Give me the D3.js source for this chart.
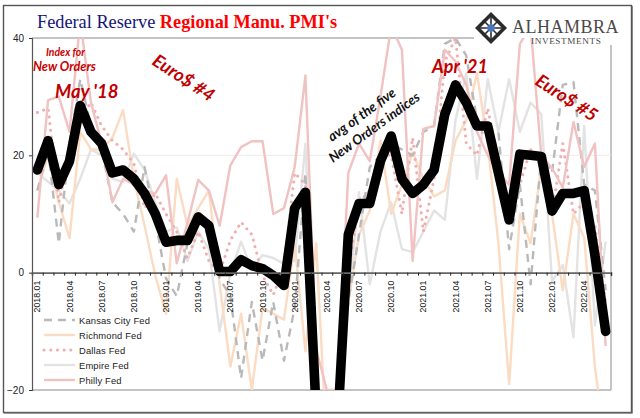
<!DOCTYPE html>
<html><head><meta charset="utf-8">
<script src="https://cdn.jsdelivr.net/npm/d3@7/dist/d3.min.js"></script>
<style>html,body{margin:0;padding:0;background:#fff}svg{display:block}</style>
</head><body><svg id="c" width="640" height="418"></svg>
<script>
const months = [];
for (let yr = 2018; yr <= 2022; yr++) for (let m = 1; m <= 12; m++) { if (yr === 2022 && m > 6) break; months.push(yr + "." + String(m).padStart(2, "0")); }
const yTicks = [-20, 0, 20, 40];
const kansas = [14,21,5,22,33,25,21,12,10,7,18,9,-1,-4,5,10,6,-1,-4,-18,-5,-15,-5,-15,-6,17,-25,-45,-25,-5,6.5,18,20,22,21,20,24,25,39,40,37,26,24,24,4,15,-2,20,17,32,32.5,15,14,-3];
const richmond = [14,20,12,5.9,24,21,21,23,27.7,16,8,-0.5,-7,16,8,11,14,-2,-16,-7,-20,-6,-7,-8,5,-13.4,5,-30,-25,-5,6.4,10.6,22.5,10,15,20.5,16,13,14,22.5,26,34,22,5,-19,10,5,18,10,-3,10,6,-16,-30];
const dallas = [27.3,28,12,20,26,29,25,22.5,21,18.6,11,13.5,10,7,2.5,7,2,0,5.5,8.6,6.5,-0.5,-3.8,1,17,15,-20,-40,-30,0,12,14,20,20,10,23,7,16,36,40,22,20,28,19,10,15,21,19,10,22,10,12,8,-5];
const empire = [17,15.5,14,11.8,16,21,20,16,15.5,20.3,17.5,12,7,7.7,2,7,4,-10,0,5.3,0.5,3,2.5,1.5,2,22,-20,-50,-30,-5,13.7,-2,7,12,4,3.5,7,10.6,9,26,34,16,33,24,33,24,29,27,-1.5,1.3,-11,25,-9,5.3];
const philly = [9.4,29.4,30,24,43,29,22,12,16,15,14,13.5,16.6,1.6,8.5,15.8,14,8,18.3,21.4,22.4,22.4,10,11,18,33.6,-13,-20,-20,17,22,19,30,42,38,2,24.5,25,38,36,32,24,20,17,15,39,42,20,17.8,14.5,25.7,18,22,-12.5];
const average = [17.5,22.5,15,19,28.5,24,22,17,17.5,16,13.5,10,5.2,5.5,5.5,9.5,8,0.2,0.2,2.2,1.2,0.7,-0.5,-2.2,11,13.7,-23.4,-50,-26,6.5,11.8,11.8,19,23.3,16,13.5,15,17.5,27,32,29,25,25,17,9,20.2,20,19.8,10.5,13.5,13.5,14,3,-10];
const seriesNames = ["Kansas City Fed","Richmond Fed","Dallas Fed","Empire Fed","Philly Fed"];
const seriesValues = [kansas, richmond, dallas, empire, philly];
const seriesColors = ["#b9b9b9","#fbdcc3","#f2aeae","#e3e3e3","#f0c2c2"];
const seriesDash = ["8,6",null,"0.1,6.6",null,null];

const L = 32, R = 611, T = 38, B = 390;
const svg = d3.select("#c");
svg.append("rect").attr("x",3.5).attr("y",5.5).attr("width",628).attr("height",407).attr("fill","#fff").attr("stroke","#555").attr("stroke-width",1.4);
svg.append("path").attr("d","M4,413.3H632.5V6").attr("fill","none").attr("stroke","#888").attr("stroke-width",1);

const x = d3.scaleBand().domain(months).range([L,R]);
const cx = (i) => x(months[i]) + x.bandwidth()/2;
const y = d3.scaleLinear().domain([-20,40]).range([B,T]);
const edge = d3.scaleLinear().domain([0,months.length]).range([L,R]);

svg.append("defs").append("clipPath").attr("id","pl").append("rect").attr("x",L).attr("y",T).attr("width",R-L).attr("height",B-T);

svg.append("line").attr("x1",L).attr("x2",474).attr("y1",T).attr("y2",T).attr("stroke","#8a8a8a");
svg.append("line").attr("x1",L).attr("x2",R).attr("y1",B).attr("y2",B).attr("stroke","#8a8a8a");
svg.append("line").attr("x1",R).attr("x2",R).attr("y1",45).attr("y2",B).attr("stroke","#8a8a8a");
svg.append("line").attr("x1",L).attr("x2",R).attr("y1",y(20)).attr("y2",y(20)).attr("stroke","#ececec");

const line = d3.line().x((d,i)=>cx(i)).y(d=>y(d));
const g = svg.append("g").attr("clip-path","url(#pl)");

const gx = svg.append("g").attr("transform",`translate(0,${y(0)})`);
gx.call(d3.axisBottom(edge).tickValues(d3.range(0,months.length+1)).tickSize(3).tickFormat(""));
gx.selectAll("path").attr("stroke","#666").attr("stroke-width",1.6);
gx.selectAll("line").attr("stroke","#222");
const gl = svg.append("g").attr("transform",`translate(0,${y(0)+4})`);
gl.call(d3.axisBottom(x).tickValues(months.filter((m,i)=>i%3===0)).tickSize(0));
gl.select(".domain").remove();
gl.selectAll("text").attr("transform","rotate(-90)").attr("text-anchor","end").attr("x",-4).attr("y",0).attr("dy","0.35em")
  .attr("font-family","'Liberation Sans'").attr("font-size",8.8).attr("fill","#111");

[3,1,2,0,4].forEach(k=>{
  g.append("path").attr("d",line(seriesValues[k])).attr("fill","none").attr("stroke",seriesColors[k])
   .attr("stroke-width",k===2?3:2.4).attr("stroke-linejoin","round").attr("stroke-dasharray",seriesDash[k])
   .attr("stroke-linecap",k===2?"round":"butt");
});
g.append("path").attr("d",line(average)).attr("fill","none").attr("stroke","#000").attr("stroke-width",9.6)
 .attr("stroke-linejoin","round").attr("stroke-linecap","round");

const gy = svg.append("g").attr("transform",`translate(${L},0)`);
gy.call(d3.axisLeft(y).tickValues(yTicks).tickSize(3));
gy.selectAll("path").attr("stroke","#555").attr("stroke-width",1.2);
gy.selectAll("line").attr("stroke","#333");
gy.selectAll("text").attr("font-family","'Liberation Sans Narrow','Liberation Sans'").attr("font-size",10).attr("fill","#222").attr("x",-8);

const title = svg.append("text").attr("x",37).attr("y",28).attr("font-family","'Liberation Serif'").attr("font-size",18.3);
title.append("tspan").attr("fill","#14147a").text("Federal Reserve ");
title.append("tspan").attr("fill","#ff0000").attr("font-weight","bold").text("Regional Manu. PMI's");

const lg = svg.append("g");
seriesNames.forEach((n,k)=>{
  const yy = 320 + k*15;
  lg.append("line").attr("x1",44).attr("x2",75).attr("y1",yy).attr("y2",yy).attr("stroke",seriesColors[k]).attr("stroke-width",k===2?3:2.4).attr("stroke-dasharray",seriesDash[k]).attr("stroke-linecap",k===2?"round":"butt");
  lg.append("text").attr("x",79).attr("y",yy+3.5).attr("font-family","'Liberation Sans'").attr("font-size",9.4).attr("letter-spacing",0.15).attr("fill","#222").text(n);
});

const notes = [
 {t:"Index for",x:46,y:56,s:10.4,w:"bold",f:"#c80000",r:0},
 {t:"New Orders",x:33,y:71,s:12.6,w:"bold",f:"#c80000",r:0},
 {t:"May '18",x:55,y:98,s:18.5,w:"bold",f:"#c00000",r:0},
 {t:"Euro$ #4",x:151,y:64,s:18,w:"bold",f:"#c00000",r:33},
 {t:"Apr '21",x:432,y:73,s:18,w:"bold",f:"#c00000",r:0},
 {t:"Euro$ #5",x:534,y:84,s:18,w:"bold",f:"#c00000",r:33},
 {t:"avg of the five",x:332,y:142,s:13.6,w:"bold",f:"#111",r:-36},
 {t:"New Orders indices",x:333,y:163,s:13.4,w:"bold",f:"#111",r:-36}
];
notes.forEach(n=>{
  svg.append("text").attr("transform",`translate(${n.x},${n.y}) rotate(${n.r})`).attr("font-family","Lato").attr("font-style","italic")
   .attr("font-weight",n.w).attr("font-size",n.s).attr("fill",n.f).text(n.t);
});

const logo = svg.append("g").attr("transform","translate(491,28)");
logo.append("path").attr("d","M0,-16L16,0L0,16L-16,0Z").attr("fill","#2b2b2b");
logo.append("path").attr("d","M0,-11L11,0L0,11L-11,0Z").attr("fill","#fff");
logo.append("path").attr("d","M-8,-8L8,8M8,-8L-8,8M0,-13V13M-13,0H13").attr("stroke","#2b2b2b").attr("stroke-width",1.6);
logo.append("path").attr("d","M0,-5L5,0L0,5L-5,0Z").attr("fill","#4a76c0");
svg.append("text").attr("x",512).attr("y",32.5).attr("font-family","'Liberation Serif'").attr("font-size",18).attr("letter-spacing",0.5).attr("fill","#4a4a4a").text("ALHAMBRA");
svg.append("text").attr("x",531).attr("y",44).attr("font-family","'Liberation Serif'").attr("font-size",9.2).attr("letter-spacing",0.6).attr("fill","#4a4a4a").text("INVESTMENTS");
</script></body></html>
